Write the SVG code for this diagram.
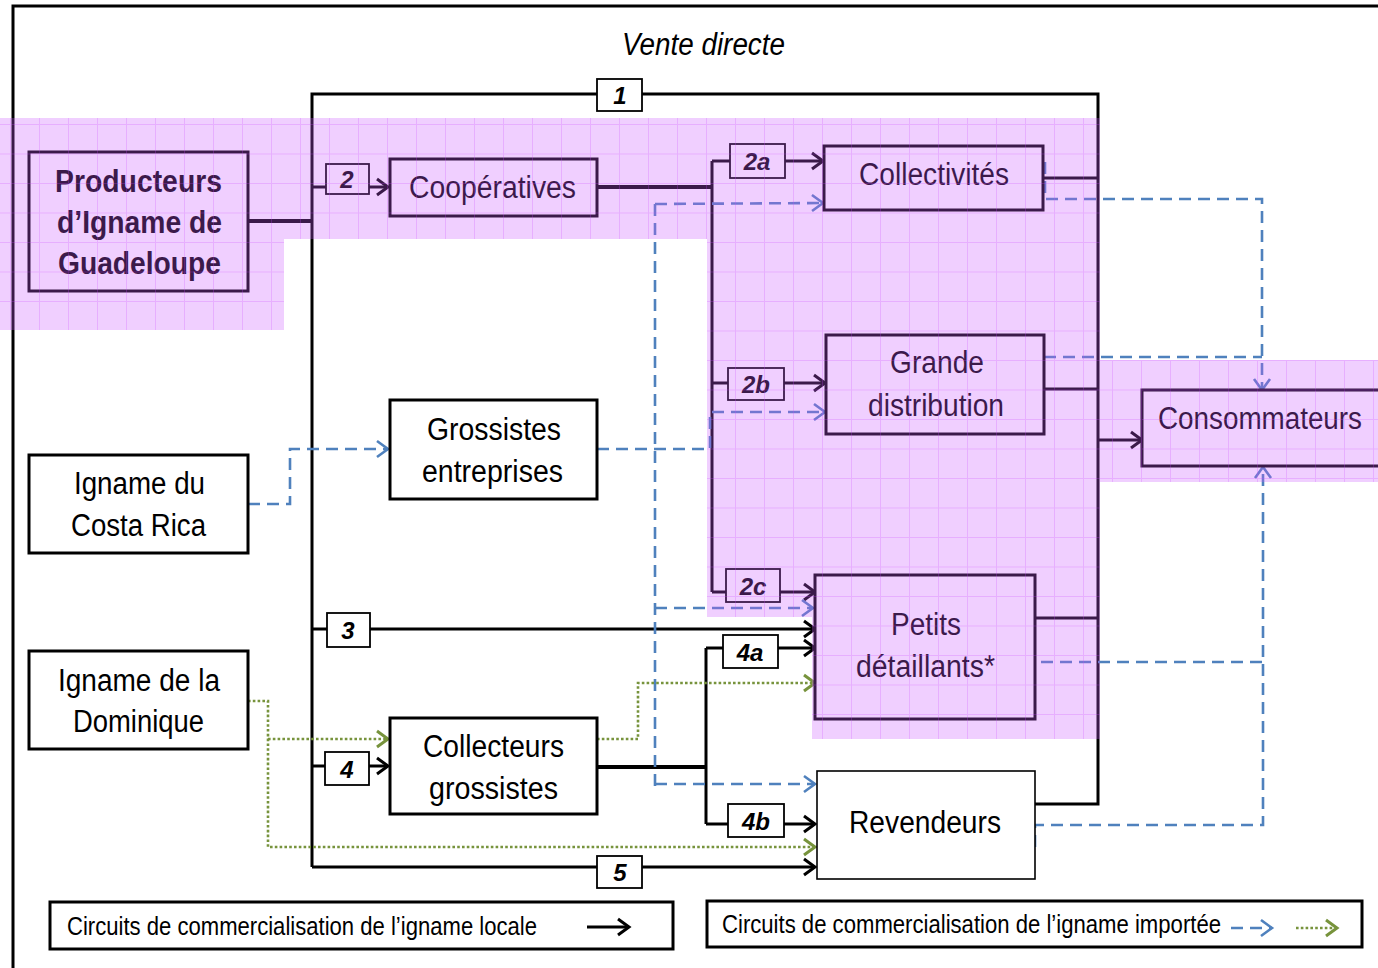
<svg xmlns="http://www.w3.org/2000/svg" width="1378" height="968" viewBox="0 0 1378 968">
<style>
.box{fill:#fff;stroke:#000;stroke-width:3}
.thin{fill:#fff;stroke:#000;stroke-width:1.6}
.lbl{fill:#fff;stroke:#000;stroke-width:1.8}
.t{font-family:"Liberation Sans Narrow","Liberation Sans",Arial,sans-serif;font-size:31px;fill:#000}
.tb{font-family:"Liberation Sans Narrow","Liberation Sans",Arial,sans-serif;font-size:32px;font-weight:bold;fill:#000}
.leg{font-family:"Liberation Sans Narrow","Liberation Sans",Arial,sans-serif;font-size:25px;fill:#000}
.num{font-family:"Liberation Sans Narrow","Liberation Sans",Arial,sans-serif;font-size:24px;font-weight:bold;font-style:italic;fill:#000;text-anchor:middle}
.ln{fill:none;stroke:#000;stroke-width:3}
.lnk{fill:none;stroke:#000;stroke-width:4}
.bl{fill:none;stroke:#4f81bd;stroke-width:2.6;stroke-dasharray:12 7}
.gr{fill:none;stroke:#77933c;stroke-width:2.6;stroke-dasharray:2.6 2.2}
</style>
<defs>
<marker id="ak" markerUnits="userSpaceOnUse" markerWidth="16" markerHeight="20" refX="13" refY="10" orient="auto">
<path d="M2,2 L13,10 L2,18" fill="none" stroke="#000" stroke-width="3"/>
</marker>
<marker id="ab" markerUnits="userSpaceOnUse" markerWidth="16" markerHeight="20" refX="13" refY="10" orient="auto">
<path d="M2,2 L13,10 L2,18" fill="none" stroke="#4f81bd" stroke-width="2.6"/>
</marker>
<marker id="ag" markerUnits="userSpaceOnUse" markerWidth="16" markerHeight="20" refX="13" refY="10" orient="auto">
<path d="M2,2 L13,10 L2,18" fill="none" stroke="#77933c" stroke-width="3"/>
</marker>
<pattern id="grid" patternUnits="userSpaceOnUse" x="10" y="6" width="29" height="29.5">
<rect width="29" height="29.5" fill="rgb(203,90,255)" fill-opacity="0.29"/>
<path d="M0.5,0 V29.5 M0,0.5 H29" stroke="rgb(200,70,255)" stroke-opacity="0.24" stroke-width="1"/>
</pattern>
</defs>
<rect width="1378" height="968" fill="#fff"/>
<!-- frame -->
<path d="M13,968 V6 H1378" fill="none" stroke="#000" stroke-width="3"/>
<text class="t" x="622" y="55" font-style="italic" font-size="30" textLength="163" lengthAdjust="spacingAndGlyphs">Vente directe</text>

<g id="connectors">
<!-- local circuits -->
<path class="lnk" d="M248,221 H312"/>
<path class="ln" d="M312,867 V94 H1098 V804 H1035"/>
<path class="ln" d="M312,187 H326"/>
<path class="ln" d="M369,187 H388" marker-end="url(#ak)"/>
<path class="lnk" d="M597,187 H712"/>
<path class="ln" d="M712,161 V592"/>
<path class="ln" d="M712,161 H730"/>
<path class="ln" d="M785,161 H823" marker-end="url(#ak)"/>
<path class="ln" d="M712,383 H728"/>
<path class="ln" d="M784,383 H825" marker-end="url(#ak)"/>
<path class="ln" d="M712,592 H726"/>
<path class="ln" d="M780,592 H815" marker-end="url(#ak)"/>
<path class="ln" d="M312,629 H815" marker-end="url(#ak)"/>
<path class="ln" d="M312,766 H325"/>
<path class="ln" d="M369,766 H388" marker-end="url(#ak)"/>
<path class="lnk" d="M597,767 H706"/>
<path class="ln" d="M706,648 V824"/>
<path class="ln" d="M706,648 H723"/>
<path class="ln" d="M778,648 H815" marker-end="url(#ak)"/>
<path class="ln" d="M706,824 H728"/>
<path class="ln" d="M784,824 H815" marker-end="url(#ak)"/>
<path class="ln" d="M312,867 H815" marker-end="url(#ak)"/>
<path class="ln" d="M1043,178 H1098"/>
<path class="ln" d="M1044,389 H1098"/>
<path class="ln" d="M1035,618 H1098"/>
<path class="ln" d="M1098,440 H1142" marker-end="url(#ak)"/>
<!-- imported: blue dashed -->
<path class="bl" d="M248,504 H290 V449 H388" marker-end="url(#ab)"/>
<path class="bl" d="M597,449 H710 V412 H825" marker-end="url(#ab)"/>
<path class="bl" d="M655,204 V790"/>
<path class="bl" d="M655,204 L823,203" marker-end="url(#ab)"/>
<path class="bl" d="M655,608 H813" marker-end="url(#ab)"/>
<path class="bl" d="M655,784 H815" marker-end="url(#ab)"/>
<path class="bl" d="M1045,162 V199 H1262 V390" marker-end="url(#ab)"/>
<path class="bl" d="M1044,357 H1262"/>
<path class="bl" d="M1035,847 V825 H1263 V467" marker-end="url(#ab)"/>
<path class="bl" d="M1041,662 H1263"/>
<!-- imported: green dotted -->
<path class="gr" d="M248,701 H268 V847 H815" marker-end="url(#ag)"/>
<path class="gr" d="M268,739 H388" marker-end="url(#ag)"/>
<path class="gr" d="M597,739 H638 V683 H815" marker-end="url(#ag)"/>
</g>

<!-- route labels -->
<g id="lbl1"><rect class="lbl" x="597" y="79" width="45" height="32"/><text class="num" x="620" y="104">1</text></g>
<g id="lbl2"><rect class="lbl" x="326" y="164" width="43" height="30"/><text class="num" x="347" y="188" font-style="normal">2</text></g>
<g id="lbl2a"><rect class="lbl" x="730" y="144" width="55" height="34"/><text class="num" x="757" y="170">2a</text></g>
<g id="lbl2b"><rect class="lbl" x="728" y="368" width="56" height="32"/><text class="num" x="756" y="393">2b</text></g>
<g id="lbl2c"><rect class="lbl" x="726" y="569" width="54" height="33"/><text class="num" x="753" y="595">2c</text></g>
<g id="lbl3"><rect class="lbl" x="327" y="613" width="43" height="34"/><text class="num" x="348" y="639">3</text></g>
<g id="lbl4"><rect class="lbl" x="325" y="752" width="44" height="33"/><text class="num" x="347" y="778">4</text></g>
<g id="lbl4a"><rect class="lbl" x="723" y="635" width="55" height="33"/><text class="num" x="750" y="661">4a</text></g>
<g id="lbl4b"><rect class="lbl" x="728" y="804" width="56" height="33"/><text class="num" x="756" y="830">4b</text></g>
<g id="lbl5"><rect class="lbl" x="597" y="856" width="45" height="32"/><text class="num" x="620" y="881">5</text></g>

<!-- nodes -->
<g id="producteurs"><rect class="box" x="29" y="152" width="219" height="139"/>
<text class="tb" x="55" y="192" textLength="167" lengthAdjust="spacingAndGlyphs">Producteurs</text>
<text class="tb" x="57" y="233" textLength="165" lengthAdjust="spacingAndGlyphs">d’Igname de</text>
<text class="tb" x="58" y="274" textLength="163" lengthAdjust="spacingAndGlyphs">Guadeloupe</text></g>
<g id="cooperatives"><rect class="box" x="390" y="159" width="207" height="57"/>
<text class="t" x="409" y="198" textLength="167" lengthAdjust="spacingAndGlyphs">Coopératives</text></g>
<g id="collectivites"><rect class="box" x="824" y="146" width="219" height="64"/>
<text class="t" x="859" y="185" textLength="150" lengthAdjust="spacingAndGlyphs">Collectivités</text></g>
<g id="grande-distribution"><rect class="box" x="826" y="335" width="218" height="99"/>
<text class="t" x="890" y="373" textLength="94" lengthAdjust="spacingAndGlyphs">Grande</text>
<text class="t" x="868" y="416" textLength="136" lengthAdjust="spacingAndGlyphs">distribution</text></g>
<g id="consommateurs"><rect class="box" x="1142" y="390" width="238" height="76"/>
<text class="t" x="1158" y="429" font-size="27" textLength="204" lengthAdjust="spacingAndGlyphs">Consommateurs</text></g>
<g id="grossistes-entreprises"><rect class="box" x="390" y="400" width="207" height="99"/>
<text class="t" x="427" y="440" textLength="134" lengthAdjust="spacingAndGlyphs">Grossistes</text>
<text class="t" x="422" y="482" textLength="141" lengthAdjust="spacingAndGlyphs">entreprises</text></g>
<g id="costa-rica"><rect class="box" x="29" y="455" width="219" height="98"/>
<text class="t" x="74" y="494" textLength="131" lengthAdjust="spacingAndGlyphs">Igname du</text>
<text class="t" x="71" y="536" textLength="135" lengthAdjust="spacingAndGlyphs">Costa Rica</text></g>
<g id="dominique"><rect class="box" x="29" y="651" width="219" height="98"/>
<text class="t" x="58" y="691" textLength="162" lengthAdjust="spacingAndGlyphs">Igname de la</text>
<text class="t" x="73" y="732" textLength="131" lengthAdjust="spacingAndGlyphs">Dominique</text></g>
<g id="collecteurs"><rect class="box" x="390" y="718" width="207" height="96"/>
<text class="t" x="423" y="757" textLength="141" lengthAdjust="spacingAndGlyphs">Collecteurs</text>
<text class="t" x="429" y="799" textLength="129" lengthAdjust="spacingAndGlyphs">grossistes</text></g>
<g id="petits-detaillants"><rect class="box" x="815" y="575" width="220" height="144"/>
<text class="t" x="891" y="635" textLength="70" lengthAdjust="spacingAndGlyphs">Petits</text>
<text class="t" x="856" y="677" textLength="139" lengthAdjust="spacingAndGlyphs">détaillants*</text></g>
<g id="revendeurs"><rect class="thin" x="817" y="771" width="218" height="108"/>
<text class="t" x="849" y="833" textLength="152" lengthAdjust="spacingAndGlyphs">Revendeurs</text></g>

<!-- legend -->
<g id="legend-local"><rect class="box" x="50" y="902" width="623" height="47"/>
<text class="leg" x="67" y="935" textLength="470" lengthAdjust="spacingAndGlyphs">Circuits de commercialisation de l’igname locale</text>
<path class="ln" d="M587,927 H629" marker-end="url(#ak)"/></g>
<g id="legend-import"><rect class="box" x="707" y="901" width="655" height="46"/>
<text class="leg" x="722" y="933" textLength="499" lengthAdjust="spacingAndGlyphs">Circuits de commercialisation de l’igname importée</text>
<path class="bl" d="M1231,928 H1272" stroke-dasharray="8 7" marker-end="url(#ab)"/>
<path class="gr" d="M1296,928 H1337" marker-end="url(#ag)"/></g>

<!-- highlighted areas (translucent overlay) -->
<g id="highlight" pointer-events="none">
<path d="M0,118 H1100 V739 H812 V617 H707 V239 H284 V330 H0 Z" fill="url(#grid)"/>
<rect x="1100" y="360" width="278" height="122" fill="url(#grid)"/>
</g>
</svg>
